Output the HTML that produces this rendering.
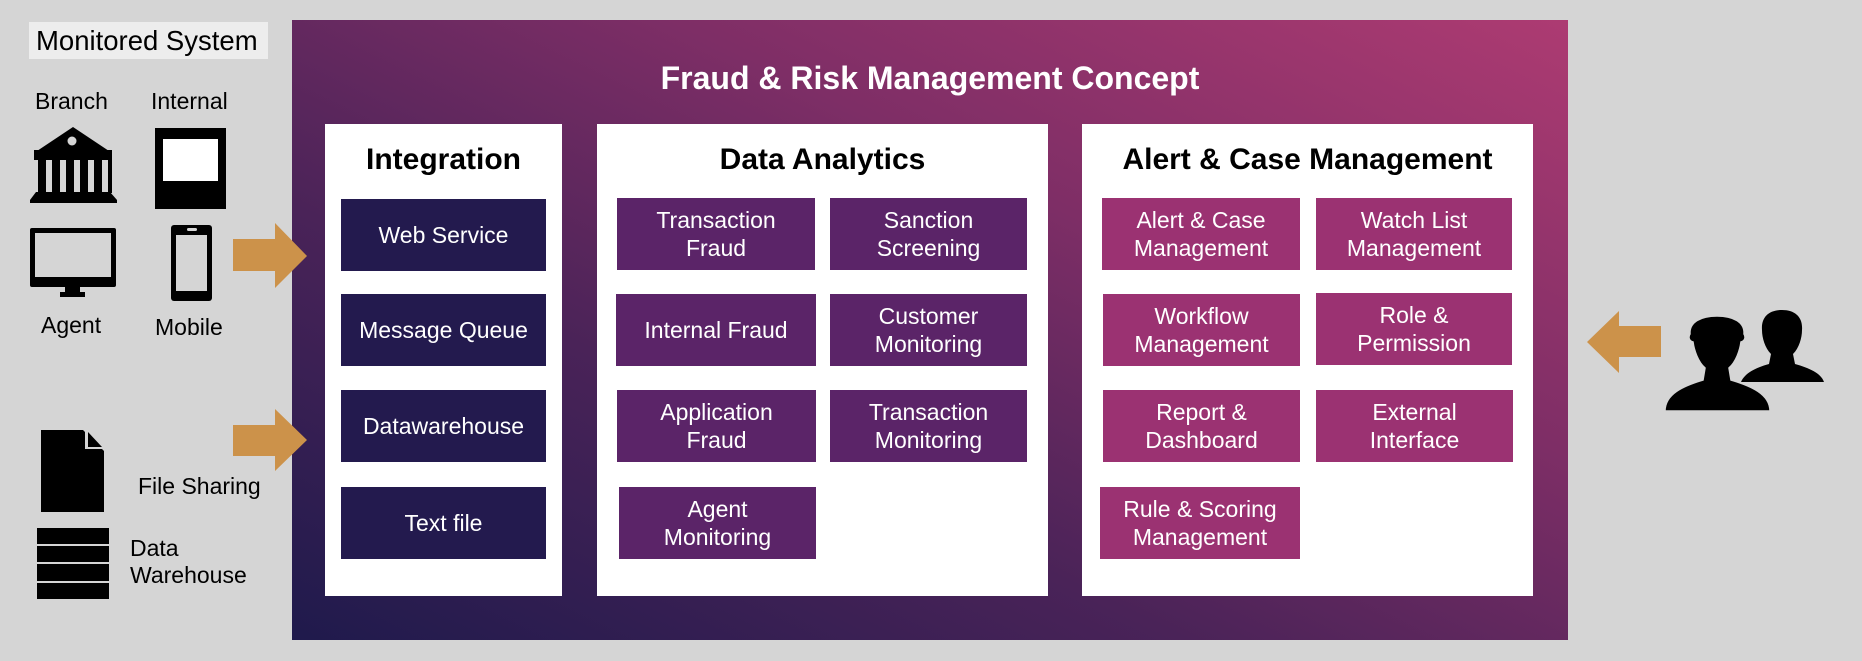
<!DOCTYPE html>
<html><head><meta charset="utf-8"><style>
*{margin:0;padding:0;box-sizing:border-box}
body{width:1862px;height:661px;background:#d5d5d5;position:relative;overflow:hidden;font-family:"Liberation Sans",Arial,sans-serif}
.a{position:absolute}
.panel{left:292px;top:20px;width:1276px;height:620px;background:linear-gradient(to top right,#1f1a4c 0%,#4a2358 35%,#7e2e66 65%,#ad3b72 100%)}
.box{background:#fff;top:124px;height:472px}
.t{position:absolute;width:100%;text-align:center;font-weight:bold;font-size:30px;color:#000;top:19px}
.it{position:absolute;display:flex;align-items:center;justify-content:center;text-align:center;color:#fff;font-size:23px;line-height:28px;height:72px}
.i1{background:#231a4e}.i2{background:#5b2468}.i3{background:#9b3272}
.lbl{position:absolute;font-size:23px;color:#000;white-space:nowrap}
</style></head><body>
<div class="a panel"></div>
<div class="a" style="left:292px;top:60px;width:1276px;text-align:center;color:#fff;font-weight:bold;font-size:32px">Fraud &amp; Risk Management Concept</div>

<div class="a box" style="left:325px;width:237px"><div class="t">Integration</div></div>
<div class="a box" style="left:597px;width:451px"><div class="t">Data Analytics</div></div>
<div class="a box" style="left:1082px;width:451px"><div class="t">Alert &amp; Case Management</div></div>

<div class="it i1" style="left:341px;top:199px;width:205px">Web Service</div>
<div class="it i1" style="left:341px;top:294px;width:205px">Message Queue</div>
<div class="it i1" style="left:341px;top:390px;width:205px">Datawarehouse</div>
<div class="it i1" style="left:341px;top:487px;width:205px">Text file</div>

<div class="it i2" style="left:617px;top:198px;width:198px">Transaction<br>Fraud</div>
<div class="it i2" style="left:830px;top:198px;width:197px">Sanction<br>Screening</div>
<div class="it i2" style="left:616px;top:294px;width:200px">Internal Fraud</div>
<div class="it i2" style="left:830px;top:294px;width:197px">Customer<br>Monitoring</div>
<div class="it i2" style="left:617px;top:390px;width:199px">Application<br>Fraud</div>
<div class="it i2" style="left:830px;top:390px;width:197px">Transaction<br>Monitoring</div>
<div class="it i2" style="left:619px;top:487px;width:197px">Agent<br>Monitoring</div>

<div class="it i3" style="left:1102px;top:198px;width:198px">Alert &amp; Case<br>Management</div>
<div class="it i3" style="left:1316px;top:198px;width:196px">Watch List<br>Management</div>
<div class="it i3" style="left:1103px;top:294px;width:197px">Workflow<br>Management</div>
<div class="it i3" style="left:1316px;top:293px;width:196px">Role &amp;<br>Permission</div>
<div class="it i3" style="left:1103px;top:390px;width:197px">Report &amp;<br>Dashboard</div>
<div class="it i3" style="left:1316px;top:390px;width:197px">External<br>Interface</div>
<div class="it i3" style="left:1100px;top:487px;width:200px">Rule &amp; Scoring<br>Management</div>

<div class="a" style="left:29px;top:22px;width:239px;height:37px;background:#ededed"></div>
<div class="lbl" style="left:36px;top:25px;font-size:27.5px">Monitored System</div>
<div class="lbl" style="left:35px;top:88px">Branch</div>
<div class="lbl" style="left:151px;top:88px">Internal</div>
<div class="lbl" style="left:41px;top:312px">Agent</div>
<div class="lbl" style="left:155px;top:314px">Mobile</div>
<div class="lbl" style="left:138px;top:473px">File Sharing</div>
<div class="lbl" style="left:130px;top:535px;line-height:27px">Data<br>Warehouse</div>

<svg class="a" style="left:0;top:0" width="1862" height="661">
<polygon points="34,153 73,127 112,153" fill="#000"/>
<rect x="34" y="150" width="78" height="10" fill="#000"/>
<circle cx="72" cy="141" r="4.5" fill="#d5d5d5"/>
<g fill="#000"><rect x="38" y="160" width="8" height="33"/><rect x="52" y="160" width="8" height="33"/><rect x="66" y="160" width="8" height="33"/><rect x="80" y="160" width="8" height="33"/><rect x="94" y="160" width="8" height="33"/><rect x="108" y="160" width="4" height="33"/></g>
<polygon points="36,192 110,192 117,200 117,203 30,203 30,200" fill="#000"/>
<rect x="155" y="128" width="71" height="81" fill="#000"/>
<rect x="163" y="139" width="55" height="42" fill="#fff"/>
<rect x="30" y="228" width="86" height="59" rx="2" fill="#000"/>
<rect x="35" y="233" width="76" height="44" fill="#d5d5d5"/>
<rect x="65" y="286" width="15" height="8" fill="#000"/>
<rect x="60" y="292" width="25" height="5" fill="#000"/>
<rect x="171" y="225" width="41" height="76" rx="3" fill="#000"/>
<rect x="176" y="235" width="31" height="56" fill="#d5d5d5"/>
<rect x="187" y="228" width="10" height="3" rx="1.5" fill="#d5d5d5"/>
<polygon points="41,430 83,430 104,451 104,512 41,512" fill="#000"/>
<polygon points="85,430 104,449 85,449" fill="#d5d5d5"/>
<polygon points="88,432 102,447 88,447" fill="#000"/>
<g fill="#000"><rect x="37" y="528" width="72" height="16"/><rect x="37" y="546" width="72" height="16"/><rect x="37" y="564" width="72" height="17"/><rect x="37" y="583" width="72" height="16"/></g>
<g fill="#cc924a">
<polygon points="233,239 275,239 275,223 307,256 275,288 275,271 233,271"/>
<polygon points="233,425 275,425 275,409 307,440 275,471 275,456 233,456"/>
<polygon points="1661,326 1619,326 1619,311 1587,342 1619,373 1619,357 1661,357"/>
</g>
<g fill="#000">
<path transform="translate(1741,310)" d="M0,72 C4,63 14,58 28,54 L30,44 C24,38 21,28 21,20 C20,7 28,0 41,0 C54,0 62,7 61,20 C61,28 58,38 52,44 L54,54 C68,58 80,63 83,72 Z"/>
<path transform="translate(1665,316)" stroke="#d5d5d5" stroke-width="1.5" d="M0,95 C0,78 18,70 38,64 L40,52 C33,46 29,34 28,26 C24,25 23,21 25,18 C24,6 36,0 52,0 C68,0 80,6 79,18 C81,21 80,25 76,26 C75,34 71,46 64,52 L66,64 C86,70 105,78 105,95 Z"/>
</g>
</svg>
</body></html>
